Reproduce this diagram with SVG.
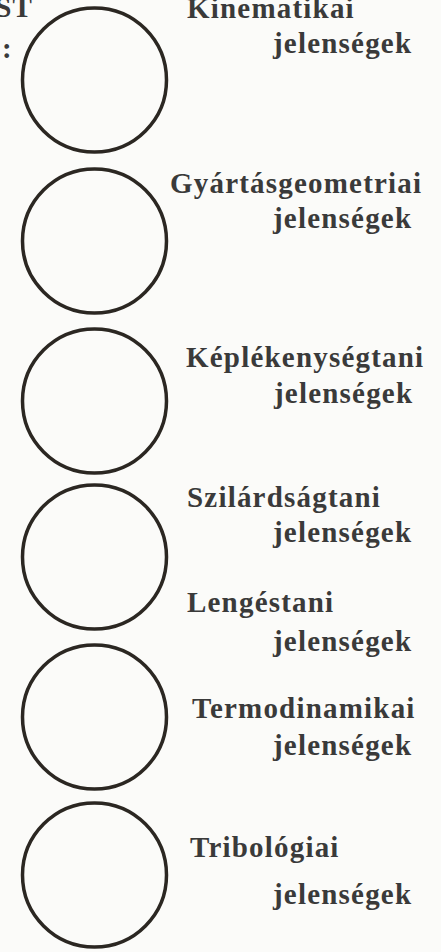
<svg xmlns="http://www.w3.org/2000/svg" width="441" height="952" viewBox="0 0 441 952">
<defs>
<style>
.bg{fill:#fbfbf9}
.c{fill:none;stroke:#2b2722;stroke-width:3.5}
.t{font-family:"Liberation Serif","Times New Roman",serif;font-weight:bold;font-size:29px;letter-spacing:1.2px;fill:#3a3a3a}
</style>
</defs>
<rect class="bg" x="0" y="0" width="441" height="952"/>
<g id="header">
<text class="t" x="33" y="17" text-anchor="end">ST</text>
<text class="t" x="2" y="58">:</text>
</g>
<g id="node-kinematikai">
<circle class="c" cx="94.5" cy="80" r="72"/>
<text class="t" x="187" y="18">Kinematikai</text>
<text class="t" x="273" y="53">jelenségek</text>
</g>
<g id="node-gyartasgeometriai">
<circle class="c" cx="94.5" cy="241" r="72"/>
<text class="t" x="170" y="193">Gyártásgeometriai</text>
<text class="t" x="273" y="228">jelenségek</text>
</g>
<g id="node-keplekenysegtani">
<circle class="c" cx="94.5" cy="401" r="72"/>
<text class="t" x="186" y="367">Képlékenységtani</text>
<text class="t" x="274" y="403">jelenségek</text>
</g>
<g id="node-szilardsagtani">
<circle class="c" cx="94.5" cy="557" r="72"/>
<text class="t" x="187" y="507">Szilárdságtani</text>
<text class="t" x="273" y="542">jelenségek</text>
</g>
<g id="node-lengestani">
<text class="t" x="187" y="612">Lengéstani</text>
<text class="t" x="273" y="651">jelenségek</text>
</g>
<g id="node-termodinamikai">
<circle class="c" cx="94.5" cy="717" r="72"/>
<text class="t" x="192" y="718">Termodinamikai</text>
<text class="t" x="273" y="755">jelenségek</text>
</g>
<g id="node-tribologiai">
<circle class="c" cx="94.5" cy="875" r="72"/>
<text class="t" x="190" y="857">Tribológiai</text>
<text class="t" x="273" y="904">jelenségek</text>
</g>
<g id="connectors"></g>
</svg>
